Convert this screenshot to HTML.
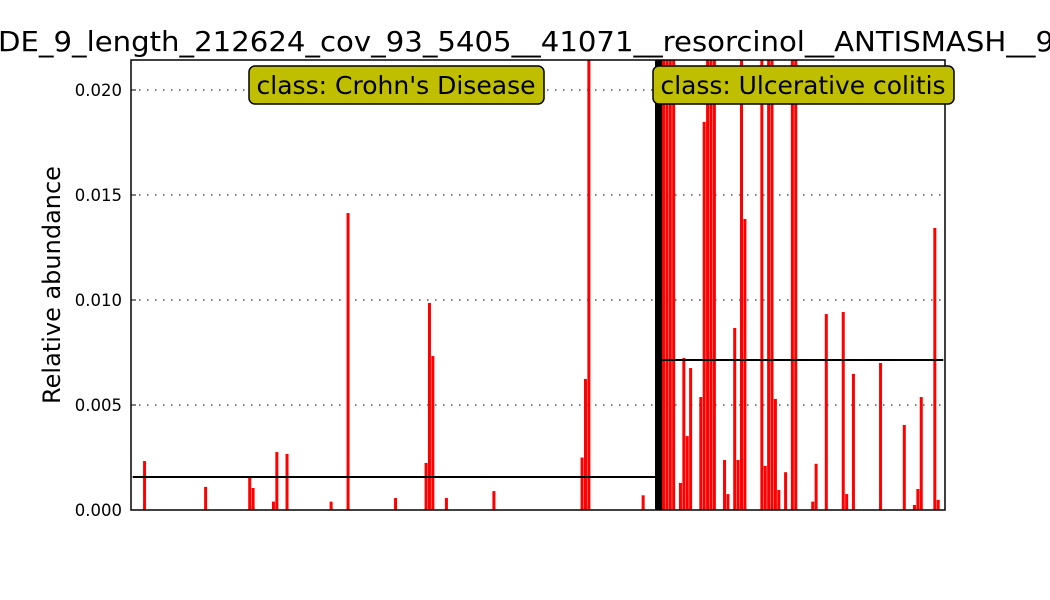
<!DOCTYPE html>
<html><head><meta charset="utf-8"><style>body{margin:0;background:#fff}svg{display:block}</style></head>
<body>
<svg id="chart" width="1050" height="600" xmlns="http://www.w3.org/2000/svg" font-family="DejaVu Sans, Liberation Sans, sans-serif">
<text x="-2" y="51" font-size="28" textLength="1056" lengthAdjust="spacingAndGlyphs">DE_9_length_212624_cov_93_5405__41071__resorcinol__ANTISMASH__9</text>
<text transform="translate(60,285) rotate(-90)" text-anchor="middle" font-size="24">Relative abundance</text>
<g id="grid"></g><g id="bars"></g><g id="lines"></g>
<rect x="131" y="60" width="814" height="450" fill="none" stroke="#000" stroke-width="1.5"/>
<g id="yticks"></g>
<g>
<rect x="249" y="66" width="295" height="38" rx="6" fill="#bfbf00" stroke="#000" stroke-width="1.5"/>
<text x="396" y="94" font-size="24.5" text-anchor="middle" textLength="279" lengthAdjust="spacingAndGlyphs">class: Crohn's Disease</text></g>
<g>
<rect x="653" y="66" width="301" height="38" rx="6" fill="#bfbf00" stroke="#000" stroke-width="1.5"/>
<text x="803" y="94" font-size="24.5" text-anchor="middle" textLength="285" lengthAdjust="spacingAndGlyphs">class: Ulcerative colitis</text></g>
</svg>
<script>
const crohnIdx=[4,22,35,36,42,43,46,59,64,78,87,88,89,93,107,133,134,135,151];
const crohnVal=[0.00233,0.0011,0.00157,0.00105,0.0004,0.00276,0.00267,0.0004,0.01414,0.00057,0.00224,0.00986,0.00733,0.00057,0.0009,0.0025,0.00624,0.025,0.0007];
const ucIdx=[157,158,159,160,162,163,164,165,168,169,170,171,172,175,176,178,179,180,181,186,187,188,189,190,191,193,195,196,201,202,205,210,211,213,221,228,231,232,233,237,238];
const ucVal=[0.025,0.025,0.025,0.025,0.00129,0.00724,0.00352,0.00676,0.00538,0.01848,0.025,0.025,0.025,0.00238,0.00076,0.00867,0.00238,0.025,0.01386,0.025,0.0021,0.025,0.025,0.00529,0.00095,0.0018,0.025,0.025,0.0004,0.0022,0.00933,0.00943,0.00076,0.00648,0.007,0.00405,0.00024,0.001,0.00538,0.01343,0.00048];
const crohnMean=0.00157, ucMean=0.00714;
const yTicks=[0,0.005,0.010,0.015,0.020];
const yTickLabels=["0.000","0.005","0.010","0.015","0.020"];
const NS="http://www.w3.org/2000/svg";
const X0=131,X1=945,Y0=510,YT=60,YMAX=0.021428;
const xs=i=>X0+i*(X1-X0)/240;
const ys=v=>Y0-Math.min(v,YMAX)/YMAX*(Y0-YT);
function mk(t,a,p){const e=document.createElementNS(NS,t);for(const k in a)e.setAttribute(k,a[k]);document.getElementById(p).appendChild(e);return e;}
yTicks.forEach((v,k)=>{
 const g=mk('line',{x1:X0,x2:X1,y1:ys(v),y2:ys(v),stroke:'#000','stroke-dasharray':'1.5,6.5'},'grid');
 
 
 const t=mk('line',{x1:X0,x2:X0+5,y1:ys(v),y2:ys(v),stroke:'#000'},'yticks');
 
 
 const l=mk('text',{x:122,y:ys(v)+6,'font-size':16.5,'text-anchor':'end'},'yticks');
 l.textContent=yTickLabels[k];
 
 
});
const blk=mk('rect',{x:xs(154.5),y:YT,width:xs(156.7)-xs(154.5),height:Y0-YT,fill:'#000'},'bars');


function drawBars(idx,val,name){idx.forEach((i,k)=>{
 const r=mk('rect',{x:xs(i)-1.5,y:ys(val[k]),width:3,height:Y0-ys(val[k]),fill:'#f00'},'bars');
 
 
});}
drawBars(crohnIdx,crohnVal,'crohn-bar');
drawBars(ucIdx,ucVal,'uc-bar');
const m1=mk('line',{x1:xs(0.5),x2:xs(154.5),y1:ys(crohnMean),y2:ys(crohnMean),stroke:'#000','stroke-width':2},'lines');


const m2=mk('line',{x1:xs(154.5),x2:xs(239.5),y1:ys(ucMean),y2:ys(ucMean),stroke:'#000','stroke-width':2},'lines');


</script>
</body></html>
